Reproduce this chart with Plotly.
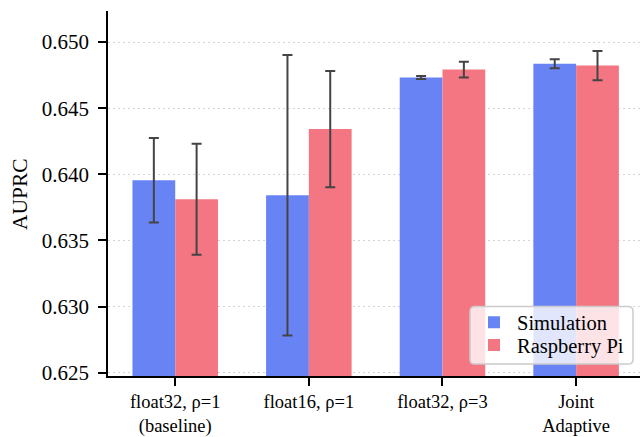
import plotly.graph_objects as go

categories = ["float32, ρ=1<br>(baseline)", "float16, ρ=1", "float32, ρ=3", "Joint<br>Adaptive"]
sim_values = [0.63955, 0.63842, 0.64732, 0.64837]
sim_errors = [0.0032, 0.0106, 0.00012, 0.00034]
rpi_values = [0.63811, 0.64342, 0.64792, 0.64822]
rpi_errors = [0.0042, 0.0044, 0.0006, 0.0011]
y_ticks = [0.625, 0.630, 0.635, 0.640, 0.645, 0.650]
y_tick_labels = ["0.625", "0.630", "0.635", "0.640", "0.645", "0.650"]

BLUE = "#6883F4"
RED = "#F47682"
ERR = "#444444"
FONT = "Liberation Serif, Times New Roman, serif"

W, H = 640, 437
ML, MR, MT, MB = 108, 0, 11, 58
PW, PH = W - ML - MR, H - MT - MB

def px(x):
    return (x - ML) / PW
def py(y):
    return (H - MB - y) / PH

x_idx = list(range(len(categories)))

fig = go.Figure()
fig.add_trace(go.Bar(
    x=x_idx, y=sim_values, name="Simulation", legend="legend",
    marker=dict(color=BLUE, line=dict(width=0)),
    error_y=dict(type="data", array=sim_errors, visible=True, color=ERR, thickness=2, width=5),
))
fig.add_trace(go.Bar(
    x=x_idx, y=rpi_values, name="Raspberry Pi", legend="legend2",
    marker=dict(color=RED, line=dict(width=0)),
    error_y=dict(type="data", array=rpi_errors, visible=True, color=ERR, thickness=2, width=5),
))

# rounded legend frame
bx0, bx1, by0, by1, r = 470, 633, 309, 367, 5
path = (
    f"M {px(bx0 + r)},{py(by0)} L {px(bx1 - r)},{py(by0)} "
    f"Q {px(bx1)},{py(by0)} {px(bx1)},{py(by0 + r)} "
    f"L {px(bx1)},{py(by1 - r)} Q {px(bx1)},{py(by1)} {px(bx1 - r)},{py(by1)} "
    f"L {px(bx0 + r)},{py(by1)} Q {px(bx0)},{py(by1)} {px(bx0)},{py(by1 - r)} "
    f"L {px(bx0)},{py(by0 + r)} Q {px(bx0)},{py(by0)} {px(bx0 + r)},{py(by0)} Z"
)
fig.add_shape(type="path", path=path, xref="paper", yref="paper", layer="above",
              fillcolor="rgba(255,255,255,0.8)", line=dict(color="#cccccc", width=1.5))

fig.add_annotation(text="AUPRC", textangle=-90, xref="paper", yref="paper",
                   x=px(20.5), y=py(196), xanchor="center", yanchor="middle", showarrow=False,
                   font=dict(family=FONT, size=21.5, color="black"))

leg_common = dict(
    xanchor="left", yanchor="middle",
    bgcolor="rgba(0,0,0,0)", borderwidth=0,
    font=dict(family=FONT, size=20.5, color="black"),
    itemwidth=36,
)

fig.update_layout(
    width=W, height=H,
    margin=dict(l=ML, r=MR, t=MT, b=MB),
    paper_bgcolor="white", plot_bgcolor="white",
    barmode="group", bargap=0.36, bargroupgap=0,
    font=dict(family=FONT, size=18, color="black"),
    showlegend=True,
    legend=dict(x=px(471), y=py(325), **leg_common),
    legend2=dict(x=px(471), y=py(348), **leg_common),
    xaxis=dict(
        range=[-0.503, 3.478], tickmode="array", tickvals=x_idx, ticktext=categories,
        showline=True, linecolor="black", linewidth=1.6, mirror=False,
        ticks="outside", ticklen=8, tickwidth=1.6, tickcolor="black",
        showgrid=False, zeroline=False,
        tickfont=dict(family=FONT, size=18.5, color="black"),
    ),
    yaxis=dict(
        range=[0.62475, 0.65235], tickmode="array", tickvals=y_ticks, ticktext=y_tick_labels,
        showline=True, linecolor="black", linewidth=1.6, mirror=False,
        ticks="outside", ticklen=8, tickwidth=1.6, tickcolor="black",
        ticklabelstandoff=5,
        showgrid=True, gridcolor="#d4d4d4", griddash="2px,3px", gridwidth=1,
        zeroline=False,
        tickfont=dict(family=FONT, size=21, color="black"),
    ),
)

fig.write_html("out.html", config={"displayModeBar": False},
               post_script="document.body.style.margin='0';")
